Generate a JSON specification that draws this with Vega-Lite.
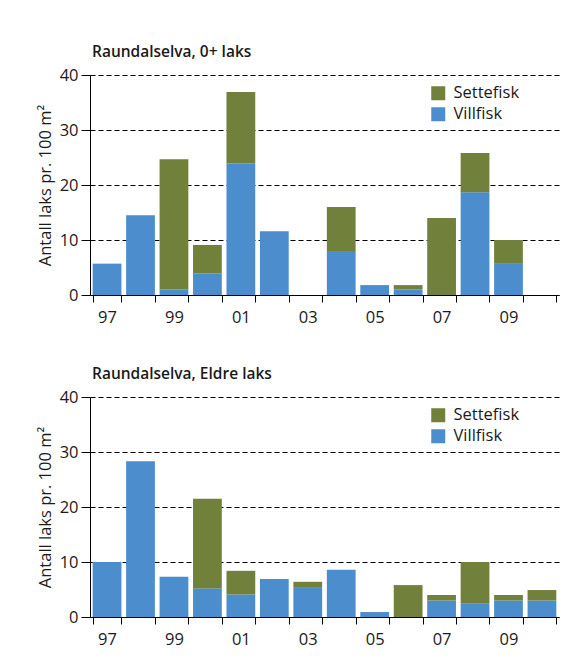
{
  "$schema": "https://vega.github.io/schema/vega-lite/v6.json",
  "background": "white",
  "padding": {"left": 37, "top": 44, "right": 10, "bottom": 5},
  "config": {
    "font": "Open Sans",
    "view": {"stroke": null},
    "axis": {"labelColor": "#1a1a1a", "titleColor": "#1a1a1a", "domainColor": "black", "tickColor": "black", "labelFontSize": 16.5},
    "title": {"color": "#1a1a1a"}
  },
  "datasets": {
    "fish": [
      {"panel": "0+", "year": 1997, "type": "Villfisk", "value": 5.7},
      {"panel": "0+", "year": 1997, "type": "Settefisk", "value": 0},
      {"panel": "0+", "year": 1998, "type": "Villfisk", "value": 14.5},
      {"panel": "0+", "year": 1998, "type": "Settefisk", "value": 0},
      {"panel": "0+", "year": 1999, "type": "Villfisk", "value": 1.0},
      {"panel": "0+", "year": 1999, "type": "Settefisk", "value": 23.7},
      {"panel": "0+", "year": 2000, "type": "Villfisk", "value": 3.9},
      {"panel": "0+", "year": 2000, "type": "Settefisk", "value": 5.2},
      {"panel": "0+", "year": 2001, "type": "Villfisk", "value": 23.9},
      {"panel": "0+", "year": 2001, "type": "Settefisk", "value": 13.0},
      {"panel": "0+", "year": 2002, "type": "Villfisk", "value": 11.6},
      {"panel": "0+", "year": 2002, "type": "Settefisk", "value": 0},
      {"panel": "0+", "year": 2003, "type": "Villfisk", "value": 0},
      {"panel": "0+", "year": 2003, "type": "Settefisk", "value": 0},
      {"panel": "0+", "year": 2004, "type": "Villfisk", "value": 8.0},
      {"panel": "0+", "year": 2004, "type": "Settefisk", "value": 8.0},
      {"panel": "0+", "year": 2005, "type": "Villfisk", "value": 1.8},
      {"panel": "0+", "year": 2005, "type": "Settefisk", "value": 0},
      {"panel": "0+", "year": 2006, "type": "Villfisk", "value": 1.0},
      {"panel": "0+", "year": 2006, "type": "Settefisk", "value": 0.8},
      {"panel": "0+", "year": 2007, "type": "Villfisk", "value": 0},
      {"panel": "0+", "year": 2007, "type": "Settefisk", "value": 14.0},
      {"panel": "0+", "year": 2008, "type": "Villfisk", "value": 18.7},
      {"panel": "0+", "year": 2008, "type": "Settefisk", "value": 7.1},
      {"panel": "0+", "year": 2009, "type": "Villfisk", "value": 5.8},
      {"panel": "0+", "year": 2009, "type": "Settefisk", "value": 4.2},
      {"panel": "0+", "year": 2010, "type": "Villfisk", "value": 0},
      {"panel": "0+", "year": 2010, "type": "Settefisk", "value": 0},
      {"panel": "Eldre", "year": 1997, "type": "Villfisk", "value": 10.0},
      {"panel": "Eldre", "year": 1997, "type": "Settefisk", "value": 0},
      {"panel": "Eldre", "year": 1998, "type": "Villfisk", "value": 28.3},
      {"panel": "Eldre", "year": 1998, "type": "Settefisk", "value": 0},
      {"panel": "Eldre", "year": 1999, "type": "Villfisk", "value": 7.3},
      {"panel": "Eldre", "year": 1999, "type": "Settefisk", "value": 0},
      {"panel": "Eldre", "year": 2000, "type": "Villfisk", "value": 5.2},
      {"panel": "Eldre", "year": 2000, "type": "Settefisk", "value": 16.3},
      {"panel": "Eldre", "year": 2001, "type": "Villfisk", "value": 4.1},
      {"panel": "Eldre", "year": 2001, "type": "Settefisk", "value": 4.3},
      {"panel": "Eldre", "year": 2002, "type": "Villfisk", "value": 6.9},
      {"panel": "Eldre", "year": 2002, "type": "Settefisk", "value": 0},
      {"panel": "Eldre", "year": 2003, "type": "Villfisk", "value": 5.3},
      {"panel": "Eldre", "year": 2003, "type": "Settefisk", "value": 1.1},
      {"panel": "Eldre", "year": 2004, "type": "Villfisk", "value": 8.6},
      {"panel": "Eldre", "year": 2004, "type": "Settefisk", "value": 0},
      {"panel": "Eldre", "year": 2005, "type": "Villfisk", "value": 0.9},
      {"panel": "Eldre", "year": 2005, "type": "Settefisk", "value": 0},
      {"panel": "Eldre", "year": 2006, "type": "Villfisk", "value": 0},
      {"panel": "Eldre", "year": 2006, "type": "Settefisk", "value": 5.8},
      {"panel": "Eldre", "year": 2007, "type": "Villfisk", "value": 3.0},
      {"panel": "Eldre", "year": 2007, "type": "Settefisk", "value": 1.0},
      {"panel": "Eldre", "year": 2008, "type": "Villfisk", "value": 2.4},
      {"panel": "Eldre", "year": 2008, "type": "Settefisk", "value": 7.6},
      {"panel": "Eldre", "year": 2009, "type": "Villfisk", "value": 3.0},
      {"panel": "Eldre", "year": 2009, "type": "Settefisk", "value": 1.0},
      {"panel": "Eldre", "year": 2010, "type": "Villfisk", "value": 3.0},
      {"panel": "Eldre", "year": 2010, "type": "Settefisk", "value": 1.9}
    ]
  },
  "spacing": 40,
  "resolve": {"legend": {"color": "independent"}},
  "vconcat": [
    {
      "title": {"text": "Raundalselva, 0+ laks", "anchor": "start", "frame": "group", "fontSize": 15.5, "fontWeight": 600, "offset": 7, "dx": 2},
      "width": 469,
      "height": 220,
      "data": {"name": "fish"},
      "transform": [{"filter": "datum.panel == '0+'"}],
      "mark": {"type": "bar"},
      "encoding": {
        "x": {"field": "year", "type": "ordinal",
          "scale": {"domain": [1997,1998,1999,2000,2001,2002,2003,2004,2005,2006,2007,2008,2009,2010], "paddingInner": 0.14, "paddingOuter": 0.08},
          "axis": {"title": null, "tickBand": "extent", "tickSize": 7, "labelPadding": 7, "labelAngle": 0, "grid": false,
            "labelExpr": "datum.value % 2 == 1 ? substring(toString(datum.value), 2) : ''"}},
        "y": {"field": "value", "type": "quantitative", "stack": "zero",
          "scale": {"domain": [0, 40]},
          "axis": {"title": "Antall laks pr. 100 m²", "titleFontSize": 16.5, "titleFontWeight": "normal", "titlePadding": 6,
            "values": [0,10,20,30,40], "grid": true, "gridDash": [5,3], "gridColor": "black", "gridOpacity": 1,
            "tickSize": 9, "labelPadding": 3}},
        "color": {"field": "type", "type": "nominal",
          "scale": {"domain": ["Settefisk", "Villfisk"], "range": ["#71803A", "#4B8DCD"]},
          "legend": {"title": null, "orient": "none", "legendX": 340, "legendY": 10, "symbolType": "square", "symbolSize": 196,
            "symbolStrokeWidth": 0, "symbolOpacity": 1, "labelFontSize": 16.5, "labelColor": "#1a1a1a", "labelOffset": 7, "rowPadding": 4}},
        "order": {"field": "type", "sort": "descending"}
      }
    },
    {
      "title": {"text": "Raundalselva, Eldre laks", "anchor": "start", "frame": "group", "fontSize": 15.5, "fontWeight": 600, "offset": 7, "dx": 2},
      "width": 469,
      "height": 220,
      "data": {"name": "fish"},
      "transform": [{"filter": "datum.panel == 'Eldre'"}],
      "mark": {"type": "bar"},
      "encoding": {
        "x": {"field": "year", "type": "ordinal",
          "scale": {"domain": [1997,1998,1999,2000,2001,2002,2003,2004,2005,2006,2007,2008,2009,2010], "paddingInner": 0.14, "paddingOuter": 0.08},
          "axis": {"title": null, "tickBand": "extent", "tickSize": 7, "labelPadding": 7, "labelAngle": 0, "grid": false,
            "labelExpr": "datum.value % 2 == 1 ? substring(toString(datum.value), 2) : ''"}},
        "y": {"field": "value", "type": "quantitative", "stack": "zero",
          "scale": {"domain": [0, 40]},
          "axis": {"title": "Antall laks pr. 100 m²", "titleFontSize": 16.5, "titleFontWeight": "normal", "titlePadding": 6,
            "values": [0,10,20,30,40], "grid": true, "gridDash": [5,3], "gridColor": "black", "gridOpacity": 1,
            "tickSize": 9, "labelPadding": 3}},
        "color": {"field": "type", "type": "nominal",
          "scale": {"domain": ["Settefisk", "Villfisk"], "range": ["#71803A", "#4B8DCD"]},
          "legend": {"title": null, "orient": "none", "legendX": 340, "legendY": 10, "symbolType": "square", "symbolSize": 196,
            "symbolStrokeWidth": 0, "symbolOpacity": 1, "labelFontSize": 16.5, "labelColor": "#1a1a1a", "labelOffset": 7, "rowPadding": 4}},
        "order": {"field": "type", "sort": "descending"}
      }
    }
  ]
}
